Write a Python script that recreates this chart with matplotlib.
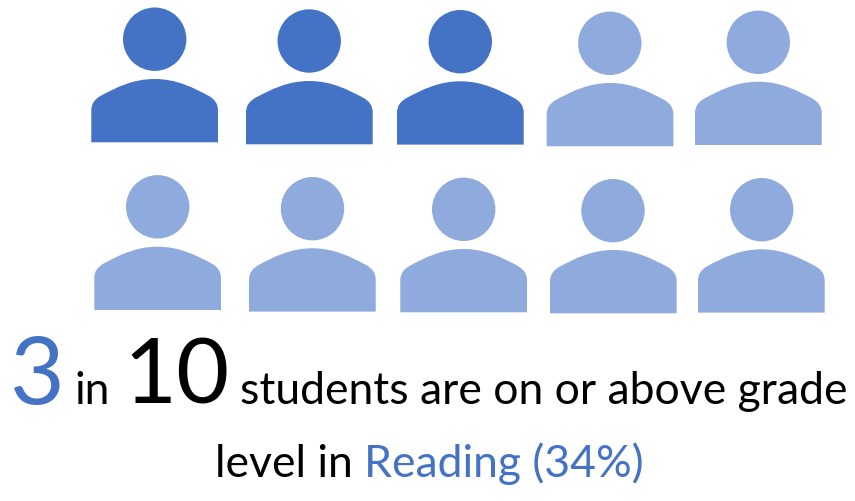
import matplotlib
matplotlib.use("Agg")
import matplotlib.pyplot as plt
from matplotlib.patches import Circle, PathPatch
from matplotlib.path import Path

# Ten students, three of them highlighted
total_students = 10
highlighted = 3
head_x = [154.7, 309.2, 460.3, 609.8, 758.3, 157.7, 312.5, 463.7, 613, 761.7]
head_y = [39.2, 41, 41.7, 43.3, 42.3, 206.8, 208.7, 209.3, 210.7, 209.7]
body_left = [91.3, 246, 397, 546.7, 695, 94.3, 249, 400.3, 550, 698]
body_top = [79, 81, 81.3, 83, 81.7, 246.7, 248.3, 249, 250, 249.3]

DARK = "#4472C4"
LIGHT = "#8FAADC"
BODY_W = 126.7
BODY_H = 63.3
HEAD_R = 31.7

plt.rcParams["font.family"] = ["Lato", "DejaVu Sans"]
fig = plt.figure(figsize=(8.55, 5.01), dpi=100)
ax = fig.add_axes([0, 0, 1, 1])
ax.set_xlim(0, 855)
ax.set_ylim(501, 0)
ax.axis("off")


def body_path(x, y):
    # Rounded-shoulder bust: a wide arc on top, small corners, straight sides
    w, h = BODY_W, BODY_H
    verts = [(x, y + h), (x, y + h * 0.50),
             (x, y + h * 0.38), (x + w * 0.03, y + h * 0.32), (x + w * 0.07, y + h * 0.27),
             (x + w * 0.20, y + h * 0.13), (x + w * 0.33, y), (x + w / 2, y),
             (x + w * 0.67, y), (x + w * 0.80, y + h * 0.13), (x + w * 0.93, y + h * 0.27),
             (x + w * 0.97, y + h * 0.32), (x + w, y + h * 0.38), (x + w, y + h * 0.50),
             (x + w, y + h), (x, y + h)]
    codes = [Path.MOVETO, Path.LINETO] + [Path.CURVE4] * 12 + [Path.LINETO, Path.CLOSEPOLY]
    return Path(verts, codes)


for i in range(total_students):
    color = DARK if i < highlighted else LIGHT
    ax.add_patch(Circle((head_x[i], head_y[i]), HEAD_R, fc=color, ec="none"))
    ax.add_patch(PathPatch(body_path(body_left[i], body_top[i]), fc=color, ec="none"))

ax.text(10, 404, "3", fontsize=68, color=DARK, va="baseline")
ax.text(74, 404, "in", fontsize=32, color="black", va="baseline")
ax.text(123, 404, "10", fontsize=66, color="black", va="baseline")
ax.text(240, 404, "students are on or above grade", fontsize=32, color="black", va="baseline")
ax.text(215, 477, "level in", fontsize=32, color="black", va="baseline")
ax.text(364, 477, "Reading (34%)", fontsize=32, color=DARK, va="baseline")

fig.savefig("out.png", dpi=100)
